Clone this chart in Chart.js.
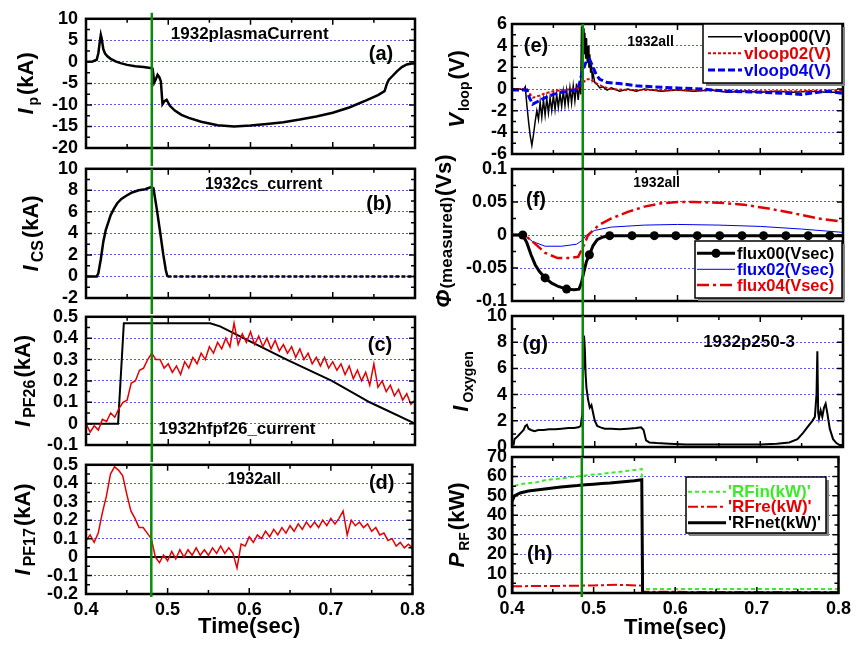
<!DOCTYPE html>
<html>
<head>
<meta charset="utf-8">
<script src="https://cdn.jsdelivr.net/npm/chart.js@4.4.1/dist/chart.umd.min.js"></script>
<style>
  body { margin: 0; background: #fff; width: 856px; height: 646px; overflow: hidden; position: relative; }
  canvas { position: absolute; }
</style>
</head>
<body>
<canvas id="pa" width="430" height="170" style="left:0;top:0"></canvas>
<canvas id="pb" width="430" height="170" style="left:0;top:150px"></canvas>
<canvas id="pc" width="430" height="170" style="left:0;top:298px"></canvas>
<canvas id="pd" width="430" height="200" style="left:0;top:446px"></canvas>
<canvas id="pe" width="426" height="170" style="left:430px;top:0"></canvas>
<canvas id="pf" width="426" height="170" style="left:430px;top:153px"></canvas>
<canvas id="pg" width="426" height="170" style="left:430px;top:300px"></canvas>
<canvas id="ph" width="426" height="205" style="left:430px;top:441px"></canvas>
<script>
// ---- data ----
// (a) plasma current
const ipT = [0.400,0.408,0.413,0.415,0.417,0.418,0.419,0.421,0.423,0.426,0.430,0.436,0.442,0.450,0.460,0.470,0.478,0.481,0.483,0.485,0.487,0.489,0.491,0.493,0.495,0.498,0.502,0.508,0.516,0.525,0.540,0.560,0.580,0.600,0.620,0.640,0.660,0.680,0.700,0.720,0.740,0.755,0.763,0.766,0.768,0.772,0.778,0.784,0.790,0.796,0.800];
const ipV = [0.0,0.1,0.5,2.0,5.0,6.3,5.5,3.0,2.0,1.3,0.7,0.1,-0.3,-0.7,-1.0,-1.2,-1.4,-1.6,-4.8,-4.0,-3.0,-3.5,-4.5,-9.8,-9.2,-8.8,-10.2,-11.3,-12.3,-13.0,-13.9,-14.7,-15.0,-14.8,-14.4,-14.0,-13.4,-12.7,-11.8,-10.6,-9.0,-7.7,-6.8,-5.0,-4.2,-3.4,-2.2,-1.2,-0.6,-0.4,-0.4];

// (b) CS current
const csT = [0.400,0.413,0.415,0.418,0.421,0.424,0.427,0.430,0.434,0.438,0.443,0.449,0.456,0.464,0.472,0.479,0.482,0.486,0.490,0.494,0.497,0.499,0.800];
const csV = [0.0,0.0,0.3,1.6,3.2,4.3,5.0,5.7,6.3,6.8,7.2,7.5,7.8,8.0,8.1,8.3,8.2,6.3,4.2,2.0,0.6,0.0,0.0];

// (c) PF26 command and measured
const pf26CmdT = [0.400,0.439,0.446,0.551,0.563,0.644,0.699,0.745,0.800];
const pf26CmdV = [0.0,0.0,0.47,0.47,0.455,0.30,0.20,0.10,0.0];
const pf26V = [0.00,-0.04,-0.01,-0.03,0.02,0.01,0.05,0.03,0.07,0.10,0.11,0.19,0.20,0.25,0.26,0.30,0.33,0.30,0.30,0.26,
  0.28,0.24,0.27,0.23,0.29,0.26,0.31,0.28,0.33,0.30,0.36,0.33,0.38,0.35,0.40,0.36,0.47,0.37,0.42,0.38,
  0.43,0.37,0.41,0.36,0.40,0.35,0.39,0.34,0.37,0.33,0.36,0.31,0.35,0.30,0.33,0.28,0.31,0.27,0.31,0.26,
  0.29,0.25,0.28,0.23,0.27,0.21,0.25,0.20,0.24,0.18,0.28,0.17,0.20,0.15,0.18,0.13,0.16,0.11,0.14,0.09,0.11];

// (d) PF17
const pf17V = [0.09,0.12,0.08,0.13,0.24,0.33,0.45,0.49,0.47,0.44,0.34,0.25,0.21,0.16,0.16,0.13,0.10,0.00,-0.03,0.01,
  -0.02,0.03,-0.01,0.04,0.00,0.04,0.01,0.05,0.01,0.04,0.01,0.05,0.02,0.06,0.02,0.05,0.02,-0.06,0.07,0.06,
  0.11,0.08,0.12,0.10,0.14,0.11,0.15,0.12,0.16,0.13,0.17,0.14,0.18,0.15,0.19,0.16,0.19,0.16,0.20,0.17,
  0.21,0.18,0.21,0.25,0.12,0.20,0.17,0.19,0.16,0.18,0.14,0.16,0.12,0.13,0.09,0.10,0.06,0.08,0.05,0.07,0.05];
const zeroT = [0.4, 0.8];
const zeroV = [0, 0];

// (e) loop voltages
const v00T = [0.400,0.405,0.410,0.414,0.416,0.418,0.420,0.422,0.424,0.426,0.428,0.430,
  0.432,0.434,0.436,0.438,0.440,0.442,0.444,0.446,0.448,0.450,0.452,0.454,0.456,0.458,0.460,0.462,0.464,0.466,0.468,0.470,0.472,0.474,0.476,0.478,0.480,0.482,
  0.483,0.484,0.485,0.486,0.487,0.488,0.489,0.490,0.491,0.492,0.493,0.494,0.495,0.496,0.497,0.498,
  0.500,0.503,0.506,0.510,0.515,0.520,0.530,0.540,0.550,0.560,
  0.580,0.600,0.620,0.640,0.660,0.680,0.700,0.720,0.740,0.760,0.780,0.800];
const v00V = [0.0,-0.1,0.0,-0.1,0.2,-1.5,-3.0,-4.3,-5.2,-4.2,-3.0,-2.0,
  -2.8,-1.2,-2.6,-1.0,-2.4,-0.9,-2.2,-0.8,-2.0,-0.6,-1.9,-0.5,-1.7,-0.4,-1.6,-0.2,-1.5,-0.1,-1.4,0.1,-1.3,0.3,-1.1,0.5,-1.0,0.7,
  -0.5,5.8,3.5,5.6,3.2,5.2,2.8,4.7,2.4,4.0,2.0,3.2,1.5,2.2,1.0,1.4,
  0.6,0.4,0.1,0.2,-0.1,0.1,-0.2,0.0,-0.2,0.0,
  -0.2,-0.1,-0.2,-0.1,-0.3,-0.2,-0.3,-0.2,-0.3,-0.2,-0.3,-0.3];
const v02T = [0.400,0.418,0.421,0.425,0.430,0.440,0.450,0.460,0.475,0.482,0.486,0.490,0.495,0.500,0.510,0.520,0.540,0.600,0.700,0.750,0.800];
const v02V = [0.0,0.0,-0.4,-0.8,-0.7,-0.4,-0.2,-0.1,0.0,0.1,0.6,0.9,0.9,0.6,0.2,0.0,-0.1,-0.1,-0.2,-0.2,-0.1];
const v04T = [0.400,0.418,0.421,0.425,0.430,0.440,0.450,0.460,0.470,0.480,0.483,0.486,0.490,0.494,0.498,0.502,0.506,0.515,0.530,0.550,0.570,0.600,0.630,0.660,0.700,0.730,0.750,0.770,0.780,0.800];
const v04V = [-0.1,-0.1,-0.8,-1.4,-1.2,-0.8,-0.5,-0.3,-0.2,0.0,1.0,1.8,2.6,2.7,2.0,1.3,0.9,0.6,0.5,0.3,0.2,0.1,0.0,-0.2,-0.3,-0.4,-0.5,-0.3,-0.2,-0.4];

// (f) flux loops
const f00T = [0.400,0.413,0.418,0.423,0.428,0.433,0.440,0.448,0.456,0.466,0.475,0.481,0.484,0.487,0.490,0.4935,0.498,0.503,0.510,0.518,0.545,0.572,0.598,0.624,0.651,0.678,0.704,0.731,0.758,0.784,0.800];
const f00V = [0.0,0.0,-0.012,-0.030,-0.045,-0.055,-0.065,-0.073,-0.078,-0.082,-0.083,-0.082,-0.072,-0.055,-0.040,-0.030,-0.016,-0.007,-0.003,-0.001,-0.001,-0.001,-0.001,-0.001,-0.001,-0.001,-0.001,-0.001,-0.001,-0.001,-0.001];
const f00Mark = [0.413,0.440,0.466,0.4935,0.518,0.545,0.572,0.598,0.624,0.651,0.678,0.704,0.731,0.758,0.784];
const f02T = [0.400,0.415,0.425,0.440,0.460,0.478,0.485,0.490,0.500,0.520,0.560,0.600,0.650,0.700,0.750,0.780,0.800];
const f02V = [0.0,0.0,-0.010,-0.017,-0.017,-0.014,-0.008,0.0,0.007,0.012,0.015,0.016,0.015,0.013,0.009,0.006,0.004];
const f04T = [0.400,0.415,0.425,0.440,0.455,0.470,0.480,0.487,0.492,0.505,0.520,0.540,0.560,0.580,0.600,0.620,0.650,0.680,0.710,0.740,0.770,0.800];
const f04V = [0.0,0.0,-0.010,-0.027,-0.035,-0.035,-0.033,-0.015,0.0,0.015,0.025,0.035,0.043,0.048,0.050,0.050,0.049,0.046,0.040,0.033,0.025,0.020];

// (g) oxygen line
const oxT = [0.400,0.402,0.403,0.405,0.408,0.411,0.414,0.416,0.418,0.420,0.423,0.427,0.432,0.438,0.445,0.452,0.460,0.468,0.475,0.480,
  0.483,0.485,0.486,0.487,0.488,0.489,0.490,0.492,0.494,0.496,0.498,0.500,0.503,0.507,0.512,0.520,0.530,0.540,0.550,0.556,
  0.559,0.562,0.566,0.575,0.590,0.610,0.640,0.670,0.700,0.720,0.735,0.745,0.752,0.758,0.763,0.766,0.768,0.769,0.770,0.771,
  0.773,0.775,0.777,0.779,0.781,0.784,0.788,0.792,0.796,0.800];
const oxV = [0.2,0.2,0.6,0.7,0.9,1.1,1.3,1.6,1.7,1.4,1.3,1.2,1.3,1.3,1.35,1.35,1.4,1.45,1.45,1.5,
  1.6,2.5,6.0,8.5,7.5,5.5,4.5,3.6,3.0,3.2,2.6,2.0,1.6,1.5,1.4,1.4,1.35,1.4,1.45,1.5,
  1.3,0.5,0.35,0.3,0.25,0.2,0.2,0.2,0.2,0.25,0.35,0.6,1.1,1.6,2.0,2.3,4.0,7.3,2.6,2.2,
  2.8,2.3,3.0,3.3,2.6,1.4,0.6,0.3,0.15,0.15];

// (h) RF power
const rfinT = [0.400,0.402,0.410,0.420,0.430,0.440,0.450,0.460,0.470,0.480,0.490,0.500,0.510,0.520,0.530,0.540,0.550,0.559,0.560,0.600,0.700,0.800];
const rfinV = [52,55,56,56.5,57,58,58.5,59,59.5,60,60.5,61,61.3,61.8,62.3,62.8,63.3,63.8,2,2,2,2];
const rfreT = [0.400,0.450,0.500,0.530,0.559,0.560,0.800];
const rfreV = [3.5,3.6,3.9,4.2,3.8,0.6,0.5];
const rfnetT = [0.400,0.400,0.403,0.410,0.420,0.430,0.440,0.450,0.460,0.470,0.480,0.490,0.500,0.510,0.520,0.530,0.540,0.550,0.559,0.560,0.800];
const rfnetV = [0,47,50,51.5,52.5,53,53.5,54,54.5,55,55.3,55.7,56,56.3,56.6,57,57.4,57.8,58.3,0,0];

const timeTicks = [0.4, 0.5, 0.6, 0.7, 0.8];
const markLeft = 0.48;   // green line, left column
const markRight = 0.4855; // green line, right column

// ---- helpers ----
const FAMILY = "'Liberation Sans', Arial, Helvetica, sans-serif";
const RED = 'rgb(228,0,0)';
const BLUE = 'rgb(0,0,235)';
const GREEN = 'rgb(60,235,40)';
const pts = (ts, vs) => ts.map((t, i) => ({x: t, y: vs[i]}));
const grid5 = (vs) => vs.map((v, i) => ({x: 0.4 + i * 0.005, y: v}));
const plain = v => String(Number(v.toFixed(4)));

function decor(o) {
  return {
    id: 'decor',
    afterDatasetsDraw(chart) {
      const {ctx, chartArea: a, scales: {x, y}} = chart;
      const font = (s, it) => `${it ? 'italic ' : ''}bold ${s}px ${FAMILY}`;
      ctx.save();
      // frame with inward ticks on all sides
      const mids = vs => vs.slice(1).map((v, i) => (v + vs[i]) / 2);
      const xv = x.ticks.map(t => t.value), yv = y.ticks.map(t => t.value);
      ctx.strokeStyle = '#000';
      ctx.lineWidth = 1.5;
      ctx.beginPath();
      [[xv, 6], [mids(xv), 4]].forEach(([vs, L]) => vs.forEach(v => {
        const p = x.getPixelForValue(v);
        ctx.moveTo(p, a.bottom); ctx.lineTo(p, a.bottom - L);
        ctx.moveTo(p, a.top); ctx.lineTo(p, a.top + L);
      }));
      [[yv, 6], [mids(yv), 4]].forEach(([vs, L]) => vs.forEach(v => {
        const p = y.getPixelForValue(v);
        ctx.moveTo(a.left, p); ctx.lineTo(a.left + L, p);
        ctx.moveTo(a.right, p); ctx.lineTo(a.right - L, p);
      }));
      ctx.stroke();
      ctx.lineWidth = 2.5;
      ctx.strokeRect(a.left, a.top, a.right - a.left, a.bottom - a.top);

      // green time marker
      const gx = x.getPixelForValue(o.mark.t);
      ctx.strokeStyle = 'rgb(10,140,10)';
      ctx.lineWidth = 2.5;
      ctx.beginPath();
      ctx.moveTo(gx, a.top - o.mark.up);
      ctx.lineTo(gx, a.bottom + o.mark.down);
      ctx.stroke();

      // notes and panel labels
      ctx.fillStyle = '#000';
      ctx.textAlign = 'center';
      ctx.textBaseline = 'middle';
      o.notes.forEach(n => {
        ctx.font = font(n.size);
        ctx.fillText(n.text, x.getPixelForValue(n.t), y.getPixelForValue(n.v));
      });

      // legend box
      if (o.legend) {
        const L = o.legend;
        const bx = a.left + L.x, by = a.top + L.y;
        ctx.fillStyle = 'rgb(130,130,130)';
        ctx.fillRect(bx + 3, by + 3, L.w, L.h);
        ctx.fillStyle = '#fff';
        ctx.fillRect(bx, by, L.w, L.h);
        ctx.strokeStyle = '#000';
        ctx.lineWidth = 1.5;
        ctx.strokeRect(bx, by, L.w, L.h);
        ctx.textAlign = 'left';
        ctx.font = font(L.size || 17);
        chart.data.datasets.filter(d => d.label).forEach((d, i) => {
          const ry = a.top + L.rows[i];
          const x0 = a.left + L.lineX, x1 = x0 + L.lineLen;
          ctx.strokeStyle = d.borderColor;
          ctx.lineWidth = d.borderWidth;
          ctx.setLineDash(d.borderDash || []);
          ctx.beginPath(); ctx.moveTo(x0, ry); ctx.lineTo(x1, ry); ctx.stroke();
          ctx.setLineDash([]);
          if (d.legendDot) {
            ctx.fillStyle = d.borderColor;
            ctx.beginPath(); ctx.arc((x0 + x1) / 2, ry, 4.5, 0, Math.PI * 2); ctx.fill();
          }
          ctx.fillStyle = d.borderColor;
          ctx.fillText(d.label, x1 + 2, ry + 1);
        });
      }

      // rotated y title with subscripts
      ctx.translate(a.left + o.title.x, (a.top + a.bottom) / 2 + (o.title.dy || 0));
      ctx.rotate(-Math.PI / 2);
      ctx.fillStyle = '#000';
      ctx.textAlign = 'left';
      ctx.textBaseline = 'alphabetic';
      let total = 0;
      o.title.parts.forEach(p => { ctx.font = font(p.size, p.it); total += ctx.measureText(p.text).width + (p.gap || 0); });
      let pos = -total / 2;
      o.title.parts.forEach(p => {
        ctx.font = font(p.size, p.it);
        ctx.fillText(p.text, pos, p.shift || 0);
        pos += ctx.measureText(p.text).width + (p.gap || 0);
      });
      ctx.restore();
    }
  };
}

function panel(id, o) {
  const tickFont = {family: FAMILY, size: 18, weight: 'bold'};
  return new Chart(document.getElementById(id), {
    type: 'line',
    data: {datasets: o.datasets},
    options: {
      responsive: false,
      animation: false,
      layout: {padding: {left: 0, right: o.pad.right, top: o.pad.top, bottom: o.pad.bottom}},
      elements: {point: {radius: 0}, line: {tension: 0}},
      plugins: {legend: {display: false}, tooltip: {enabled: false}},
      scales: {
        x: {
          type: 'linear', min: 0.4, max: 0.8,
          afterBuildTicks: s => { s.ticks = timeTicks.map(v => ({value: v})); },
          ticks: {display: !!o.xH, font: tickFont, color: '#000', padding: 5, maxRotation: 0, autoSkip: false, callback: plain},
          grid: {display: false, drawTicks: false},
          border: {display: false},
          title: {display: !!o.xH, text: 'Time(sec)', color: '#000',
                  font: {family: FAMILY, size: 22, weight: 'bold'}, padding: {top: 0, bottom: o.titlePad || 6}},
          afterFit: s => { s.height = o.xH || 0; }
        },
        y: {
          min: o.y[0], max: o.y[1],
          ticks: {stepSize: o.y[2], font: tickFont, color: '#000', padding: o.tickPad, autoSkip: false, callback: plain},
          grid: {color: 'rgba(70,70,255,0.9)', lineWidth: 1, drawTicks: false},
          border: {display: false, dash: [2, 2]},
          afterFit: s => { s.width = o.pad.left; }
        }
      }
    },
    plugins: [decor(o)]
  });
}

const line = (data, color, width, extra) => Object.assign({data, borderColor: color, borderWidth: width, fill: false}, extra || {});

// ---- left column ----
panel('pa', {
  pad: {left: 86, right: 15, top: 16, bottom: 22}, tickPad: 8, y: [-20, 10, 5],
  mark: {t: markLeft, up: 6, down: 18},
  datasets: [line(pts(ipT, ipV), '#000', 2.5)],
  notes: [{text: '1932plasmaCurrent', t: 0.599, v: 6.4, size: 17}, {text: '(a)', t: 0.7587, v: 1.8, size: 20}],
  title: {x: -53, parts: [{text: 'I', it: true, size: 22, gap: 3}, {text: 'p', size: 14, shift: 5, gap: 2}, {text: '(kA)', size: 22}]}
});

panel('pb', {
  pad: {left: 86, right: 15, top: 16, bottom: 22}, tickPad: 8, y: [-2, 10, 2],
  mark: {t: markLeft, up: 0, down: 16},
  datasets: [line(pts(csT, csV), '#000', 2.5, {segment: {borderDash: c => c.p0.parsed.x >= 0.499 ? [4, 2] : undefined}})],
  notes: [{text: '1932cs_current', t: 0.616, v: 8.55, size: 16}, {text: '(b)', t: 0.7562, v: 6.7, size: 20}],
  title: {x: -48, parts: [{text: 'I', it: true, size: 22, gap: 3}, {text: 'CS', size: 16, shift: 5, gap: 2}, {text: '(kA)', size: 22}]}
});

panel('pc', {
  pad: {left: 86, right: 15, top: 16, bottom: 23}, tickPad: 8, y: [-0.1, 0.5, 0.1],
  mark: {t: markLeft, up: 0, down: 17},
  datasets: [
    line(grid5(pf26V), RED, 1.5, {order: 1}),
    line(pts(pf26CmdT, pf26CmdV), '#000', 2, {order: 2})
  ],
  notes: [{text: '1932hfpf26_current', t: 0.5836, v: -0.027, size: 17}, {text: '(c)', t: 0.7574, v: 0.367, size: 20}],
  title: {x: -56, parts: [{text: 'I', it: true, size: 22, gap: 3}, {text: 'PF26', size: 16, shift: 5, gap: 2}, {text: '(kA)', size: 22}]}
});

panel('pd', {
  pad: {left: 86, right: 15, top: 16, bottom: 0}, tickPad: 8, y: [-0.2, 0.5, 0.1], xH: 52, titlePad: 6,
  mark: {t: markLeft, up: 0, down: 3},
  datasets: [
    line(grid5(pf17V), RED, 1.5, {order: 1}),
    line(pts(zeroT, zeroV), '#000', 2, {order: 2})
  ],
  notes: [{text: '1932all', t: 0.606, v: 0.42, size: 16}, {text: '(d)', t: 0.7623, v: 0.399, size: 20}],
  title: {x: -56, parts: [{text: 'I', it: true, size: 22, gap: 3}, {text: 'PF17', size: 16, shift: 5, gap: 2}, {text: '(kA)', size: 22}]}
});

// ---- right column ----
panel('pe', {
  pad: {left: 82, right: 13, top: 24, bottom: 16}, tickPad: 5, y: [-6, 6, 2],
  mark: {t: markRight, up: 0, down: 15},
  datasets: [
    line(pts(v00T, v00V), '#000', 1.5, {label: 'vloop00(V)', order: 3}),
    line(pts(v02T, v02V), RED, 2, {label: 'vloop02(V)', borderDash: [3, 2], order: 2}),
    line(pts(v04T, v04V), BLUE, 3, {label: 'vloop04(V)', borderDash: [7, 3], order: 1})
  ],
  legend: {x: 191, y: 0, w: 139, h: 59, rows: [12.7, 29.3, 46], lineX: 196, lineLen: 34},
  notes: [{text: '1932all', t: 0.5674, v: 4.34, size: 14}, {text: '(e)', t: 0.429, v: 3.88, size: 20}],
  title: {x: -48, parts: [{text: 'V', it: true, size: 22, gap: 2}, {text: 'loop', size: 14, shift: 5, gap: 2}, {text: '(V)', size: 22}]}
});

panel('pf', {
  pad: {left: 82, right: 13, top: 16, bottom: 22}, tickPad: 5, y: [-0.1, 0.1, 0.05],
  mark: {t: markRight, up: 0, down: 15},
  datasets: [
    line(pts(f00T, f00V), '#000', 3, {label: 'flux00(Vsec)', legendDot: true, order: 1,
      pointRadius: c => (c.raw && f00Mark.includes(c.raw.x)) ? 4.5 : 0, pointBackgroundColor: '#000', pointBorderWidth: 0}),
    line(pts(f02T, f02V), BLUE, 1, {label: 'flux02(Vsec)', order: 3}),
    line(pts(f04T, f04V), RED, 2.5, {label: 'flux04(Vsec)', borderDash: [12, 4, 3, 4], order: 2})
  ],
  legend: {x: 183, y: 72, w: 147, h: 57, rows: [84.3, 100.3, 116], lineX: 185, lineLen: 38, size: 16.5},
  notes: [{text: '1932all', t: 0.5748, v: 0.0788, size: 14}, {text: '(f)', t: 0.429, v: 0.053, size: 20}],
  title: {x: -61, dy: -4, parts: [{text: 'Φ', it: true, size: 22, gap: 1}, {text: '(measured)', size: 17, shift: 1, gap: 1}, {text: '(Vs)', size: 22}]}
});

panel('pg', {
  pad: {left: 82, right: 13, top: 16, bottom: 23}, tickPad: 5, y: [0, 10, 2],
  mark: {t: markRight, up: 0, down: 10},
  datasets: [line(pts(oxT, oxV), '#000', 2)],
  notes: [{text: '1932p250-3', t: 0.6864, v: 7.98, size: 17}, {text: '(g)', t: 0.428, v: 7.8, size: 20}],
  title: {x: -44, parts: [{text: 'I', it: true, size: 22, gap: 3}, {text: 'Oxygen', size: 14, shift: 5}]}
});

panel('ph', {
  pad: {left: 82, right: 13, top: 16, bottom: 0}, tickPad: 5, y: [0, 70, 10], xH: 53, titlePad: 5,
  mark: {t: markRight, up: 0, down: 4},
  datasets: [
    line(pts(rfinT, rfinV), GREEN, 2, {label: "'RFin(kW)'", borderDash: [4, 3], order: 2}),
    line(pts(rfreT, rfreV), RED, 2, {label: "'RFre(kW)'", borderDash: [10, 3, 3, 3], order: 3}),
    line(pts(rfnetT, rfnetV), '#000', 3, {label: "'RFnet(kW)'", order: 1})
  ],
  legend: {x: 174, y: 20, w: 140, h: 56, rows: [34.7, 49.7, 65.7], lineX: 176, lineLen: 38},
  notes: [{text: '(h)', t: 0.434, v: 19.6, size: 20}],
  title: {x: -48, parts: [{text: 'P', it: true, size: 22, gap: 2}, {text: 'RF', size: 14, shift: 5, gap: 2}, {text: '(kW)', size: 22}]}
});
</script>
</body>
</html>
